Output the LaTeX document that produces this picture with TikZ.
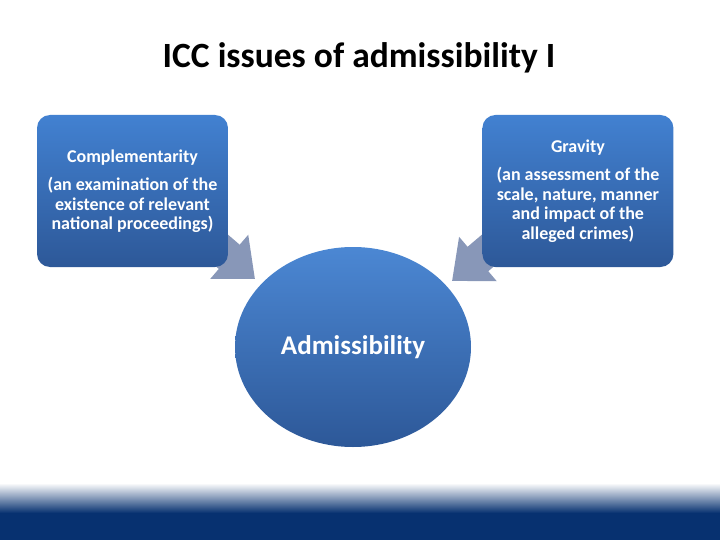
\documentclass[tikz,border=0pt]{standalone}
\usepackage{fontspec}
\setmainfont{Carlito}
\usepackage{tikz}
\usetikzlibrary{shapes.geometric, arrows.meta, calc, positioning, backgrounds}
\definecolor{boxtop}{RGB}{66,129,209}
\definecolor{boxbot}{RGB}{45,88,152}
\definecolor{arrowgray}{RGB}{136,151,184}
\definecolor{barblue}{RGB}{7,49,112}
\tikzstyle{block} = [rectangle, rounded corners=13pt, minimum width=191pt, minimum height=152pt, top color=boxtop, bottom color=boxbot, text=white, align=center, font=\bfseries\fontsize{18}{19.5}\selectfont, inner sep=0pt]
\tikzstyle{hub} = [ellipse, minimum width=236pt, minimum height=200pt, inner sep=0pt, top color=boxtop!95!white, bottom color=boxbot, text=white, font=\bfseries\fontsize{27}{30}\selectfont]
\tikzstyle{arrow} = [line width=32pt, arrowgray, -{Triangle[width=56pt, length=34pt]}]

\begin{document}
\begin{tikzpicture}[x=1pt, y=-1pt]
	\useasboundingbox (0,0) rectangle (720,540);
	\node (Title) at (359,58) {\bfseries\fontsize{35.5}{40}\selectfont ICC issues of admissibility I};
	\node (Complementarity) [block] at (132.5,191) {Complementarity\\[9pt](an examination of the\\existence of relevant\\national proceedings)};
	\node (Gravity) [block, right = 254pt of Complementarity] {Gravity\\[9pt](an assessment of the\\scale, nature, manner\\and impact of the\\alleged crimes)};
	\node (Admissibility) [hub] at (353,347) {Admissibility};
	\coordinate (ComplementarityTip) at (255,279);
	\coordinate (GravityTip) at (452,281);
	\begin{scope}[on background layer]
		\draw [arrow] ([shift={(-45,-50)}]Complementarity.south east) -- (ComplementarityTip);
		\draw [arrow] ([shift={(45,-50)}]Gravity.south west) -- (GravityTip);
	\end{scope}
	% bottom bar
	\shade [top color=white, bottom color=barblue] (0,483) rectangle (720,513);
	\fill [barblue] (0,513) rectangle (720,540);
\end{tikzpicture}
\end{document}
